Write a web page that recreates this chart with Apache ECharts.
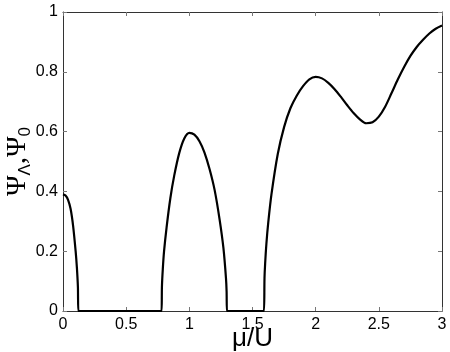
<!DOCTYPE html>
<html>
<head>
<meta charset="utf-8">
<script src="https://cdn.jsdelivr.net/npm/echarts@6/dist/echarts.min.js"></script>
<style>
  html, body { margin: 0; padding: 0; background: #fff; }
  #chart { width: 450px; height: 352px; }
</style>
</head>
<body>
<div id="chart"></div>
<script>
// mu/U values and order parameter
const muValues = [
  0, 0.02, 0.04, 0.06, 0.08, 0.1, 0.11, 0.118, 0.122,
  0.3, 0.5, 0.7, 0.78,
  0.783, 0.79, 0.8, 0.82, 0.85, 0.88, 0.92, 0.96, 1.0, 1.04, 1.08, 1.12, 1.16, 1.2, 1.24, 1.27, 1.29, 1.295, 1.298,
  1.4, 1.5, 1.59,
  1.595, 1.6, 1.61, 1.625, 1.65, 1.7, 1.75, 1.8, 1.85, 1.9, 1.95, 2.0, 2.05, 2.1, 2.15, 2.2, 2.25, 2.3, 2.35, 2.4, 2.45,
  2.5, 2.55, 2.6, 2.65, 2.7, 2.75, 2.8, 2.85, 2.9, 2.95, 3.0
];
const psiValues = [
  0.39, 0.386, 0.372, 0.342, 0.285, 0.2, 0.145, 0.08, 0,
  0, 0, 0, 0,
  0.08, 0.14, 0.2, 0.28, 0.378, 0.452, 0.528, 0.577, 0.596, 0.59, 0.568, 0.53, 0.475, 0.405, 0.305, 0.21, 0.11, 0.065, 0,
  0, 0, 0,
  0.11, 0.158, 0.225, 0.297, 0.39, 0.525, 0.615, 0.678, 0.72, 0.752, 0.775, 0.783, 0.778, 0.763, 0.742, 0.716, 0.688, 0.662, 0.641, 0.628, 0.631,
  0.65, 0.683, 0.728, 0.774, 0.816, 0.853, 0.883, 0.907, 0.928, 0.944, 0.955
];
const xTicks = [0, 0.5, 1, 1.5, 2, 2.5, 3];
const yTicks = [0, 0.2, 0.4, 0.6, 0.8, 1];

const chart = echarts.init(document.getElementById("chart"));
const axisLine = { show: true, onZero: false, lineStyle: { color: "#333", width: 1 } };
const tickStyle = { show: true, inside: true, length: 4, lineStyle: { color: "#777" } };
const labelFont = { color: "#000", fontSize: 16, fontFamily: "Liberation Sans, Arial, sans-serif" };

chart.setOption({
  animation: false,
  grid: { left: 63, right: 8, top: 12, bottom: 41, containLabel: false, outerBoundsMode: "none" },
  xAxis: [
    {
      type: "value", min: 0, max: 3, interval: 0.5,
      axisLine, axisTick: tickStyle, splitLine: { show: false },
      axisLabel: { ...labelFont, margin: 6, formatter: (v) => (xTicks.includes(v) ? String(v) : "") },
      name: "μ/U", nameLocation: "middle", nameGap: 15, nameMoveOverlap: false,
      nameTextStyle: { color: "#000", fontSize: 26, fontFamily: "Liberation Sans, Arial, sans-serif" },
    },
    {
      type: "value", min: 0, max: 3, interval: 0.5, position: "top",
      axisLine, axisTick: tickStyle, axisLabel: { show: false }, splitLine: { show: false },
    },
  ],
  yAxis: [
    {
      type: "value", min: 0, max: 1, interval: 0.2,
      axisLine, axisTick: tickStyle, splitLine: { show: false },
      axisLabel: { ...labelFont, margin: 5, formatter: (v) => (yTicks.includes(v) ? String(Math.round(v * 10) / 10) : "") },
      name: "{m|Ψ}{s|Λ}{m|,Ψ}{s|0}", nameLocation: "middle", nameGap: 29, nameRotate: 90, nameMoveOverlap: false,
      nameTextStyle: {
        color: "#000",
        rich: {
          m: { fontSize: 28, fontFamily: "Liberation Serif, Times New Roman, serif", color: "#000", lineHeight: 32, verticalAlign: "middle" },
          s: { fontSize: 17, fontFamily: "Liberation Sans, Arial, sans-serif", color: "#000", lineHeight: 32, verticalAlign: "bottom" },
        },
      },
    },
    {
      type: "value", min: 0, max: 1, interval: 0.2, position: "right",
      axisLine, axisTick: tickStyle, axisLabel: { show: false }, splitLine: { show: false },
    },
  ],
  series: [
    {
      type: "line",
      showSymbol: false,
      smooth: 0.3,
      lineStyle: { color: "#000", width: 2.2 },
      data: muValues.map((x, i) => [x, psiValues[i]]),
    },
  ],
});
</script>
</body>
</html>
